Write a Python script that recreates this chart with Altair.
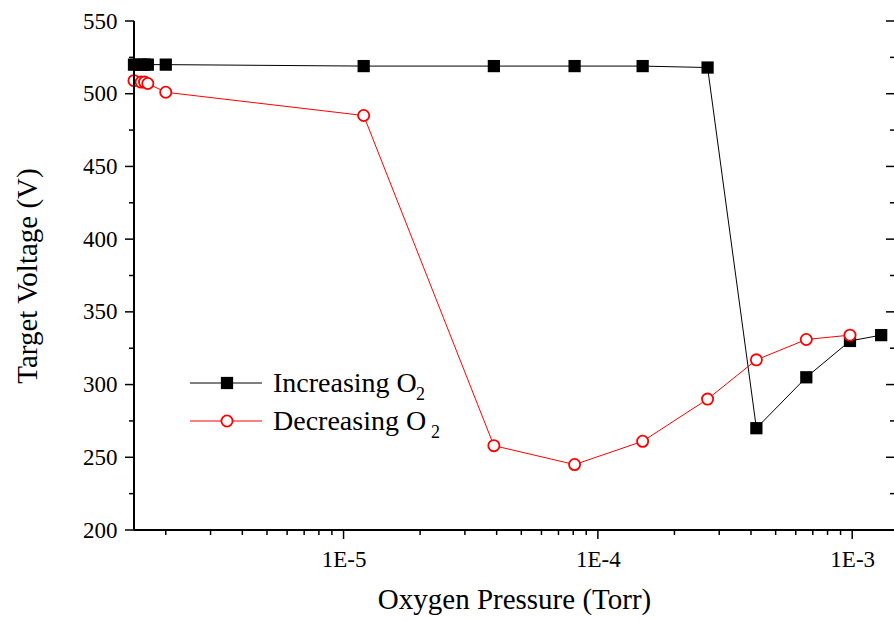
import altair as alt
import pandas as pd

# ---- data ----
inc_p = [1.5e-6, 1.6e-6, 1.65e-6, 1.7e-6, 2.0e-6, 1.2e-5, 3.9e-5, 8.1e-5, 1.5e-4, 2.7e-4, 4.2e-4, 6.6e-4, 9.8e-4, 1.3e-3]
inc_v = [520, 520, 520, 520, 520, 519, 519, 519, 519, 518, 270, 305, 330, 334]
dec_p = [1.5e-6, 1.6e-6, 1.65e-6, 1.7e-6, 2.0e-6, 1.2e-5, 3.9e-5, 8.1e-5, 1.5e-4, 2.7e-4, 4.2e-4, 6.6e-4, 9.8e-4]
dec_v = [509, 508, 508, 507, 501, 485, 258, 245, 261, 290, 317, 331, 334]
series_names = ["Increasing O", "Decreasing O"]
subscript = "2"
x_major = [1e-5, 1e-4, 1e-3]
x_minor = [m * 10.0 ** e for e in (-6, -5, -4) for m in range(2, 10)]
y_major = [200, 250, 300, 350, 400, 450, 500, 550]
y_minor = [225, 275, 325, 375, 425, 475, 525]

FONT = "Liberation Serif"
T = 9                 # major tick length (drawn inside the enlarged view)
PW, PH = 760, 509     # data rectangle
W, H = PW + T, PH + T # view incl. tick margin on left/bottom

inc = pd.DataFrame({"P": inc_p, "V": inc_v})
dec = pd.DataFrame({"P": dec_p, "V": dec_v})

xscale = alt.Scale(type="log", domain=[1.5e-6, 1.46e-3], nice=False, range=[T, W])
yscale = alt.Scale(domain=[200, 550], nice=False, zero=False, range=[PH, 0])

x_axis = alt.Axis(
    values=x_major,
    labelExpr="'1E' + round(log(datum.value)/LN10)",
    ticks=False, tickSize=0, domain=False,
    title="Oxygen Pressure (Torr)", grid=False,
    labelFont=FONT, labelFontSize=23, labelColor="black", labelPadding=9,
    labelFlush=False, labelOverlap=False,
    titleFont=FONT, titleFontSize=29, titleFontWeight="normal", titleColor="black",
    titlePadding=14,
)
y_axis = alt.Axis(
    values=y_major,
    ticks=False, tickSize=0, domain=False,
    title="Target Voltage (V)", grid=False,
    labelFont=FONT, labelFontSize=23, labelColor="black", labelPadding=8,
    labelOverlap=False,
    titleFont=FONT, titleFontSize=29, titleFontWeight="normal", titleColor="black",
    titlePadding=40,
)

X = alt.X("P:Q", scale=xscale, axis=x_axis)
Y = alt.Y("V:Q", scale=yscale, axis=y_axis)

inc_line = alt.Chart(inc).mark_line(color="black", strokeWidth=1).encode(x=X, y=Y)
inc_pts = alt.Chart(inc).mark_point(shape="square", filled=True, color="black",
                                    size=150, opacity=1).encode(x=X, y=Y)
dec_line = alt.Chart(dec).mark_line(color="red", strokeWidth=1).encode(x=X, y=Y)
dec_pts = alt.Chart(dec).mark_point(shape="circle", filled=False, fill="white",
                                    fillOpacity=1, stroke="red", strokeWidth=1.8,
                                    size=125, opacity=1).encode(x=X, y=Y)

xmaj_df = pd.DataFrame({"P": x_major})
xmin_df = pd.DataFrame({"P": x_minor})
ymin_df = pd.DataFrame({"V": y_minor})
ymaj_df = pd.DataFrame({"V": y_major})

# axis lines
left_line = alt.Chart(ymaj_df).mark_rule(color="black", strokeWidth=1.5).encode(
    x=alt.value(T), y=alt.value(0), y2=alt.value(PH))
bottom_line = alt.Chart(ymaj_df).mark_rule(color="black", strokeWidth=1.5).encode(
    y=alt.value(PH), x=alt.value(T), x2=alt.value(W))

# bottom ticks (outward)
bt_major = alt.Chart(xmaj_df).mark_rule(color="black", strokeWidth=1.5).encode(
    x=X, y=alt.value(PH), y2=alt.value(PH + T))
bt_minor = alt.Chart(xmin_df).mark_rule(color="black", strokeWidth=1.5).encode(
    x=X, y=alt.value(PH), y2=alt.value(PH + 5))
# left ticks (outward)
lt_major = alt.Chart(ymaj_df).mark_rule(color="black", strokeWidth=1.5).encode(
    y=Y, x=alt.value(0), x2=alt.value(T))
lt_minor = alt.Chart(ymin_df).mark_rule(color="black", strokeWidth=1.5).encode(
    y=Y, x=alt.value(T - 5), x2=alt.value(T))
# right ticks (inward)
rt_major = alt.Chart(ymaj_df).mark_rule(color="black", strokeWidth=1.5).encode(
    y=Y, x=alt.value(W - 8), x2=alt.value(W))
rt_minor = alt.Chart(ymin_df).mark_rule(color="black", strokeWidth=1.5).encode(
    y=Y, x=alt.value(W - 4), x2=alt.value(W))

# manual legend
leg = []
specs = [
    (series_names[0], 362, "black", "square", True, 282),
    (series_names[1], 400, "red", "circle", False, 297),
]
for name, yy, col, shp, filled, subx in specs:
    d = pd.DataFrame({"name": [name], "sub": [subscript]})
    leg.append(alt.Chart(d).mark_rule(color=col, strokeWidth=1).encode(
        x=alt.value(T + 56), x2=alt.value(T + 128), y=alt.value(yy)))
    if filled:
        leg.append(alt.Chart(d).mark_point(shape=shp, filled=True, color=col, size=150,
                                           opacity=1).encode(x=alt.value(T + 93), y=alt.value(yy)))
    else:
        leg.append(alt.Chart(d).mark_point(shape=shp, filled=False, fill="white", fillOpacity=1,
                                           stroke=col, strokeWidth=1.8, size=125,
                                           opacity=1).encode(x=alt.value(T + 93), y=alt.value(yy)))
    leg.append(alt.Chart(d).mark_text(align="left", baseline="alphabetic", font=FONT,
                                      fontSize=28, color="black").encode(
        x=alt.value(T + 139), y=alt.value(yy + 9), text="name:N"))
    leg.append(alt.Chart(d).mark_text(align="left", baseline="alphabetic", font=FONT,
                                      fontSize=18, color="black").encode(
        x=alt.value(T + subx), y=alt.value(yy + 17), text="sub:N"))

chart = alt.layer(inc_line, inc_pts, dec_line, dec_pts,
                  left_line, bottom_line, bt_major, bt_minor, lt_major, lt_minor,
                  rt_major, rt_minor, *leg).properties(
    width=W, height=H,
    padding={"left": 134 - T, "top": 21, "right": 0, "bottom": 91 - T},
    autosize=alt.AutoSizeParams(type="none"),
).configure_view(strokeOpacity=0)

chart.save("out.html", embed_options={"renderer": "svg", "actions": False})
